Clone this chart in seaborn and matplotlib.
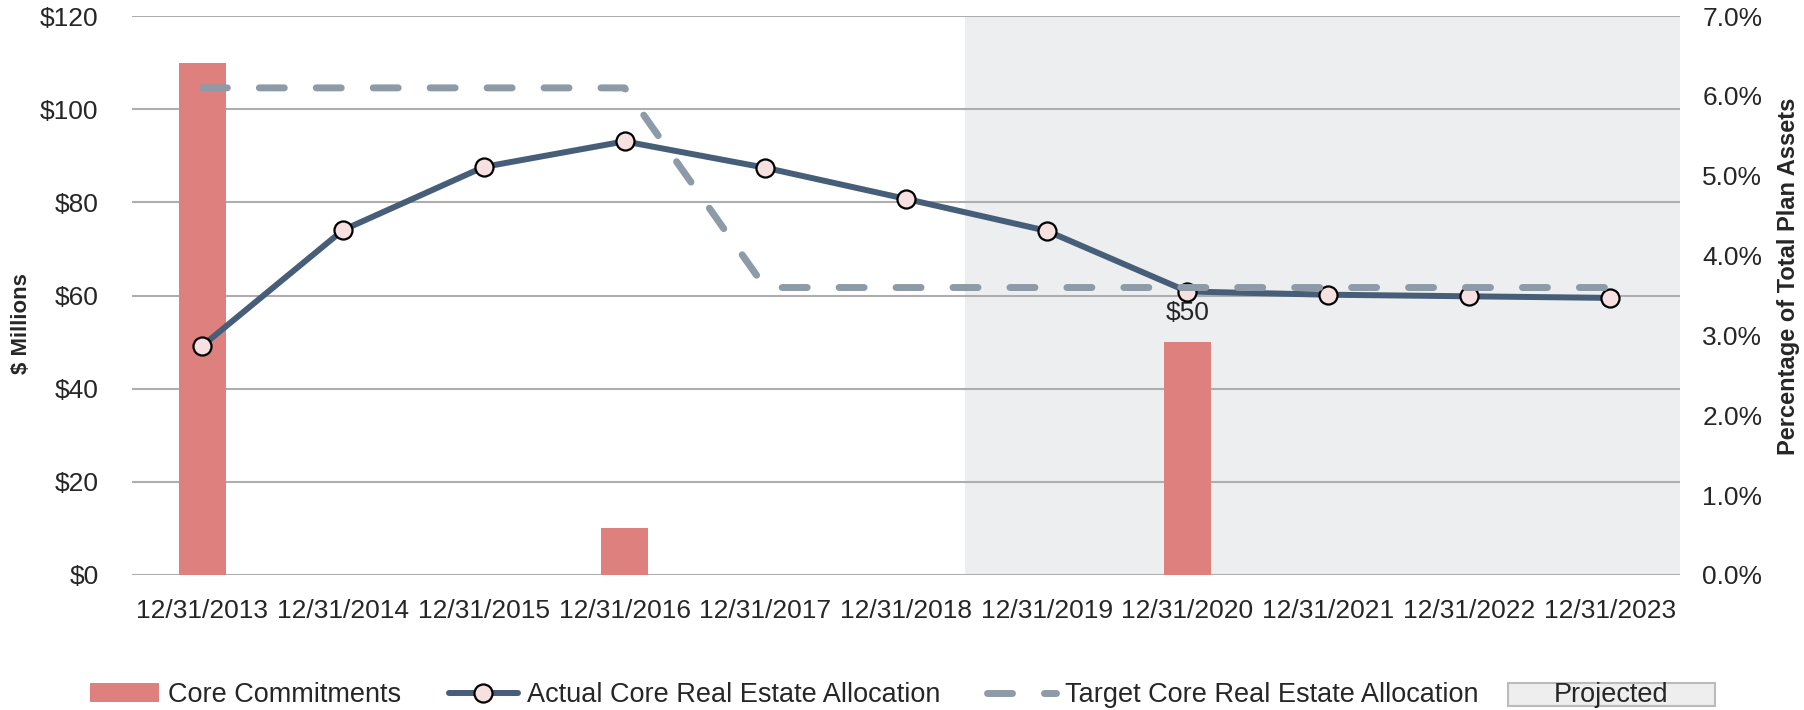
import numpy as np
import pandas as pd
import seaborn as sns
import matplotlib.pyplot as plt
from matplotlib.patches import Rectangle
from matplotlib.ticker import FuncFormatter

# data
dates = ["12/31/2013", "12/31/2014", "12/31/2015", "12/31/2016", "12/31/2017", "12/31/2018",
         "12/31/2019", "12/31/2020", "12/31/2021", "12/31/2022", "12/31/2023"]
commitments = [110, 0, 0, 10, 0, 0, 0, 50, 0, 0, 0]  # $ millions
actual_pct = [2.87, 4.32, 5.11, 5.43, 5.10, 4.71, 4.31, 3.55, 3.51, 3.49, 3.47]
target_pct = [6.1, 6.1, 6.1, 6.1, 3.6, 3.6, 3.6, 3.6, 3.6, 3.6, 3.6]
projected_from = 5.42  # start of the shaded projection area (category units)

df = pd.DataFrame({"pos": np.arange(len(dates)), "date": dates, "commit": commitments,
                   "actual": actual_pct, "target": target_pct})

sns.set_style("white")
plt.rcParams['font.family'] = ['Liberation Sans', 'DejaVu Sans']
FS = 19
LFS = 19.5

fig = plt.figure(figsize=(18.04, 7.10), dpi=100)
ax = fig.add_axes([132 / 1804, 1 - 575 / 710, 1548 / 1804, 559 / 710])
ax2 = ax.twinx()

ax.axvspan(projected_from, 10.5, color="#EDEEF0", zorder=0, lw=0)

sns.barplot(data=df, x="pos", y="commit", native_scale=True, width=0.33, color="#DE817E",
            saturation=1, linewidth=0, ax=ax, label="Core Commitments", zorder=2)
ax.annotate("$50", xy=(7, 50), xytext=(0, 12), textcoords="offset points",
            ha="center", va="bottom", fontsize=FS)

sns.lineplot(data=df, x="pos", y="actual", ax=ax2, color="#465E78", lw=4.3, marker="o",
             markersize=13, markerfacecolor="#F6E0E0", markeredgecolor="black",
             markeredgewidth=1.6, label="Actual Core Real Estate Allocation")
sns.lineplot(data=df, x="pos", y="target", ax=ax2, color="#8D9AA7", lw=5,
             label="Target Core Real Estate Allocation")
tline = ax2.lines[-1]
tline.set_dashes((3.6, 4.6))
tline.set_dash_capstyle("round")
if ax2.get_legend() is not None:
    ax2.get_legend().remove()
if ax.get_legend() is not None:
    ax.get_legend().remove()

ax.set_xlim(-0.5, 10.5)
ax.set_ylim(0, 120)
ax.set_yticks(range(0, 121, 20))
ax.yaxis.set_major_formatter(FuncFormatter(lambda v, p: f"${v:.0f}"))
ax.set_xticks(df["pos"], dates)
ax2.set_ylim(0, 7)
ax2.set_yticks(range(0, 8))
ax2.yaxis.set_major_formatter(FuncFormatter(lambda v, p: f"{v:.1f}%"))

ax.grid(axis="y", color="#AEAEAE", lw=1.5)
ax.grid(axis="x", visible=False)
ax.set_axisbelow(True)
for a in (ax, ax2):
    for s in a.spines.values():
        s.set_visible(False)
ax.tick_params(axis="x", length=0, pad=17, labelsize=FS)
ax.tick_params(axis="y", length=0, pad=24, labelsize=FS)
ax2.tick_params(axis="y", length=0, pad=16, labelsize=FS)

ax.set_xlabel("")
ax.set_ylabel("$ Millions", fontsize=16, fontweight="bold")
ax.yaxis.set_label_coords(-0.0646, 0.45)
ax2.set_ylabel("Percentage of Total Plan Assets", fontsize=17, fontweight="bold", rotation=90)
ax2.yaxis.set_label_coords(1.0625, 0.535)

h1, l1 = ax.get_legend_handles_labels()
h2, l2 = ax2.get_legend_handles_labels()
fig.legend(h1 + h2, l1 + l2, loc="center left", bbox_to_anchor=(90 / 1804, 1 - 695 / 710),
           ncol=3, frameon=False, fontsize=LFS, handlelength=2.55, handletextpad=0.33,
           columnspacing=1.75, borderpad=0, borderaxespad=0)

fig.add_artist(Rectangle((1508 / 1804, 1 - 706 / 710), 207 / 1804, 23 / 710,
                         transform=fig.transFigure, fc="#EEEEEE", ec="#BBBBBB", lw=1.5))
fig.text(1611 / 1804, 1 - 695 / 710, "Projected", ha="center", va="center", fontsize=LFS)

fig.savefig("out.png", dpi=100)
